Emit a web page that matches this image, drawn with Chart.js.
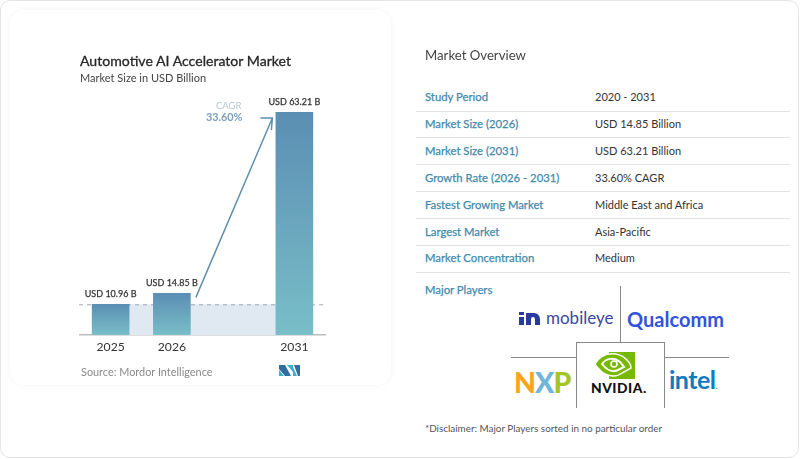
<!DOCTYPE html>
<html>
<head>
<meta charset="utf-8">
<script src="https://cdn.jsdelivr.net/npm/chart.js@4"></script>
<style>
  html, body { margin: 0; padding: 0; background: #fff; }
  body { width: 800px; height: 459px; position: relative; overflow: hidden; font-family: Lato, sans-serif; }
  .abs { position: absolute; white-space: nowrap; line-height: 1; }
  #outer { position: absolute; left: 0; top: 0; width: 797px; height: 456px; border: 1.5px solid #e6e6e6; border-radius: 10px; }
  #panel { position: absolute; left: 10px; top: 10px; width: 381px; height: 375px; border-radius: 14px; box-shadow: 0 0 5px rgba(0,0,0,0.06); }
  #chart { position: absolute; left: 0; top: 0; }
  .rule { position: absolute; background: #e2e2e2; height: 1px; left: 416px; width: 374px; }
  .line { position: absolute; background: #8a8a8a; }
  .key { color: #3f8bab; -webkit-text-stroke: 0.25px #3f8bab; }
</style>
</head>
<body>
<div id="outer"></div>
<div id="panel"></div>
<canvas id="chart" width="400" height="400"></canvas>

<div class="abs" style="left:80px;top:54px;font-size:14.1px;color:#262626;-webkit-text-stroke:0.3px #262626">Automotive AI Accelerator Market</div>
<div class="abs" style="left:80px;top:72px;font-size:11px;color:#444">Market Size in USD Billion</div>
<div class="abs" style="left:81px;top:367px;font-size:10.9px;color:#8a8a8a">Source: Mordor Intelligence</div>
<svg class="abs" style="left:278px;top:364px" width="23" height="13" viewBox="0 0 23 13">
  <polygon points="1,1 7,1 13,12 7,12 1,5" fill="#2f6f9f"/>
  <polygon points="1,6 6,12 1,12" fill="#35b3cf"/>
  <polygon points="9,1 15,1 15,8" fill="#35b3cf"/>
  <polygon points="16,1 22,1 22,12 20,12" fill="#2f6f9f"/>
  <polygon points="15,3 19,12 15,12" fill="#35b3cf"/>
</svg>

<div class="abs" style="left:425px;top:49px;font-size:13.2px;color:#444">Market Overview</div>
<div id="overview"></div>
<div class="abs key" style="left:425px;top:284px;font-size:11.3px">Major Players</div>

<div class="line" style="left:620px;top:286px;width:1px;height:56px"></div>
<div class="line" style="left:576px;top:342px;width:88px;height:1px"></div>
<div class="line" style="left:576px;top:342px;width:1px;height:66px"></div>
<div class="line" style="left:664px;top:342px;width:1px;height:66px"></div>
<div class="line" style="left:511px;top:357px;width:65px;height:1px"></div>
<div class="line" style="left:664px;top:357px;width:65px;height:1px"></div>

<svg class="abs" style="left:518px;top:311px" width="24" height="16" viewBox="0 0 24 16">
  <rect x="1" y="1" width="5" height="3" fill="#2b3aa0"/>
  <rect x="1" y="6" width="5" height="8" fill="#2b3aa0"/>
  <path d="M8 14V2h8a6 6 0 0 1 6 6v6h-5V8a2 2 0 0 0-4 0v6z" fill="#2b3aa0"/>
</svg>
<div class="abs" style="left:546px;top:309px;font-size:17px;color:#3a479f">mobileye</div>
<div class="abs" style="left:627px;top:309px;font-size:20px;font-weight:700;color:#3253dc">Qualcomm</div>

<div class="abs" style="left:514px;top:368px;font-size:28.5px;font-weight:900;letter-spacing:-1px"><span style="color:#f9a51a">N</span><span style="color:#6fb6dc">X</span><span style="color:#a4c529">P</span></div>

<svg class="abs" style="left:594px;top:351px" width="42" height="29" viewBox="0 0 42 29">
  <rect x="15" y="1" width="26" height="27" fill="#76b900"/>
  <path d="M1 13C6 4 14 2 22 3C31 5 37 12 37 17L28 22C22 27 12 25 7 20C4 17 2 15 1 13Z" fill="#76b900" stroke="#fff" stroke-width="1.5"/>
  <path d="M8 13C12 7 20 6 26 11L30 16L24 19C18 22 12 18 8 13Z" fill="none" stroke="#fff" stroke-width="2"/>
  <circle cx="20" cy="13" r="3" fill="none" stroke="#fff" stroke-width="1.6"/>
</svg>
<div class="abs" style="left:591px;top:381px;font-size:13.8px;font-weight:900;color:#111;letter-spacing:0.5px">NVIDIA.</div>

<div class="abs" style="left:669px;top:367px;font-size:25px;font-weight:700;color:#0f7cc0;letter-spacing:-0.5px">intel<span style="font-size:8px">.</span></div>

<div class="abs" style="left:425px;top:424px;font-size:9.9px;color:#555">*Disclaimer: Major Players sorted in no particular order</div>

<script>
// chart data
const years = ['2025', '2026', '', '2031'];
const marketSize = [10.96, 14.85, null, 63.21];
const barLabels = ['USD 10.96 B', 'USD 14.85 B', '', 'USD 63.21 B'];
const cagrTitle = 'CAGR';
const cagrValue = '33.60%';

// right hand table
const overviewLabels = ['Study Period', 'Market Size (2026)', 'Market Size (2031)', 'Growth Rate (2026 - 2031)', 'Fastest Growing Market', 'Largest Market', 'Market Concentration'];
const overviewValues = ['2020 - 2031', 'USD 14.85 Billion', 'USD 63.21 Billion', '33.60% CAGR', 'Middle East and Africa', 'Asia-Pacific', 'Medium'];

const overview = document.getElementById('overview');
overviewLabels.forEach((label, i) => {
  const y = 91 + i * 26.9;
  overview.insertAdjacentHTML('beforeend',
    `<div class="abs key" style="left:425px;top:${y}px;font-size:11.3px">${label}</div>` +
    `<div class="abs" style="left:595px;top:${y}px;font-size:11px;color:#333">${overviewValues[i]}</div>` +
    `<div class="rule" style="top:${y + 19.5}px"></div>`);
});

// the source bars are not to scale: the last one is stretched above 2026
const BEND_AT = 14.85;
const BEND_RATE = 1.339;
const bend = v => v <= BEND_AT ? v : BEND_AT + (v - BEND_AT) * BEND_RATE;

class BentScale extends Chart.LinearScale {
  getPixelForValue(value) {
    return value === null ? NaN : super.getPixelForValue(bend(value));
  }
}
BentScale.id = 'bent';
BentScale.defaults = Chart.LinearScale.defaults;
Chart.register(BentScale);

const barGradient = (context) => {
  const chart = context.chart;
  const y = chart.scales.y;
  const value = context.raw;
  const top = y ? y.getPixelForValue(value) : NaN;
  const bottom = y ? y.getPixelForValue(0) : NaN;
  if (!isFinite(top) || !isFinite(bottom)) return '#5b8eb3'; // scale not laid out yet
  const g = chart.ctx.createLinearGradient(0, top, 0, bottom);
  g.addColorStop(0, '#5b8eb3');
  g.addColorStop(1, '#79bec8');
  return g;
};

// band and dashed line behind the bars
const bandPlugin = {
  id: 'band',
  beforeDatasetsDraw(chart) {
    const ctx = chart.ctx;
    const y = chart.scales.y;
    const bars = chart.getDatasetMeta(0).data;
    const top = y.getPixelForValue(marketSize[0]);
    const bottom = y.getPixelForValue(0);
    ctx.save();
    ctx.fillStyle = '#e0e9f2';
    ctx.fillRect(bars[0].x, top, bars[3].x - bars[0].x, bottom - top);
    ctx.strokeStyle = '#a0a8ad';
    ctx.lineWidth = 1;
    ctx.setLineDash([4, 4]);
    ctx.beginPath();
    ctx.moveTo(chart.chartArea.left - 1, top + 0.5);
    ctx.lineTo(chart.chartArea.right + 2, top + 0.5);
    ctx.stroke();
    ctx.restore();
  }
};

// labels over the bars, cagr text and arrow
const notesPlugin = {
  id: 'notes',
  afterDatasetsDraw(chart) {
    const ctx = chart.ctx;
    const bars = chart.getDatasetMeta(0).data;
    ctx.save();
    ctx.textAlign = 'center';
    ctx.textBaseline = 'middle';
    ctx.fillStyle = '#333';
    ctx.font = '9px Lato';
    ctx.strokeStyle = '#333';
    ctx.lineWidth = 0.25;
    barLabels.forEach((text, i) => {
      if (!text) return;
      ctx.fillText(text, bars[i].x, bars[i].y - 10);
      ctx.strokeText(text, bars[i].x, bars[i].y - 10);
    });

    const x1 = bars[1].x + 24, y1 = bars[1].y + 4;
    const x2 = bars[3].x - 22, y2 = bars[3].y + 6;
    ctx.strokeStyle = '#5f8fb0';
    ctx.lineWidth = 1.5;
    ctx.beginPath();
    ctx.moveTo(x1, y1);
    ctx.lineTo(x2, y2);
    ctx.moveTo(x2 - 12, y2);
    ctx.lineTo(x2, y2);
    ctx.lineTo(x2 - 1, y2 + 12);
    ctx.stroke();

    ctx.textAlign = 'right';
    ctx.fillStyle = '#b7c8d3';
    ctx.font = '9.5px Lato';
    ctx.fillText(cagrTitle, x2 - 31, y2 - 12);
    ctx.fillStyle = '#7a9fbe';
    ctx.font = '700 10.8px Lato';
    ctx.fillText(cagrValue, x2 - 30, y2);
    ctx.restore();
  }
};

new Chart(document.getElementById('chart').getContext('2d'), {
  type: 'bar',
  data: {
    labels: years,
    datasets: [{
      data: marketSize,
      backgroundColor: barGradient,
      barThickness: 37
    }]
  },
  options: {
    responsive: false,
    animation: false,
    layout: { padding: { left: 80, right: 75, top: 112, bottom: 35 } },
    plugins: { legend: { display: false }, tooltip: { enabled: false } },
    scales: {
      x: {
        grid: { display: false, drawTicks: false },
        border: { color: '#bdbdbd', width: 1.5 },
        ticks: { color: '#333', font: { family: 'Lato', size: 12.2 }, padding: 5, maxRotation: 0 },
        afterFit: (scale) => { scale.height = 30; }
      },
      y: {
        type: 'bent',
        display: false,
        min: 0,
        max: bend(63.21)
      }
    }
  },
  plugins: [bandPlugin, notesPlugin]
});
</script>
</body>
</html>
